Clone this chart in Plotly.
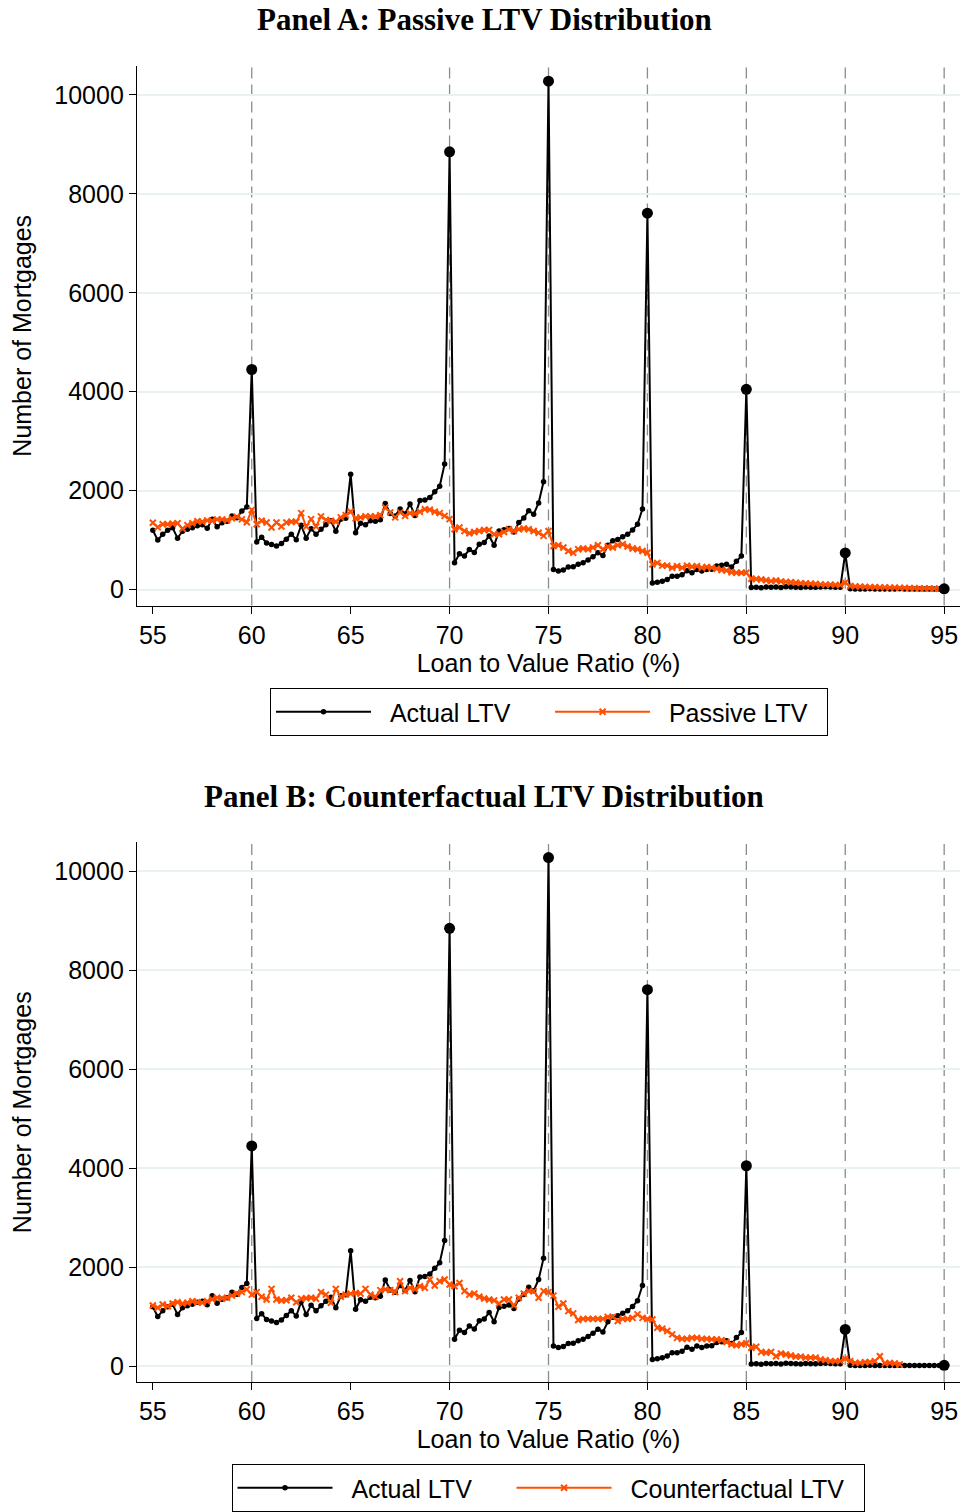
import plotly.graph_objects as go

# ---------------- data ----------------
ltv = [55 + 0.25 * i for i in range(161)]  # LTV grid, 55 to 95 in 0.25 steps

actual = [
    1200, 1000, 1120, 1200,   # 55
    1250, 1040, 1180, 1220,   # 56
    1250, 1290, 1310, 1240,   # 57
    1420, 1270, 1350, 1380,   # 58
    1490, 1450, 1590, 1670,   # 59
    4450, 960, 1060, 940,     # 60
    910, 880, 930, 1020,      # 61
    1120, 1010, 1300, 1040,   # 62
    1230, 1120, 1220, 1310,   # 63
    1390, 1180, 1420, 1440,   # 64
    2330, 1150, 1340, 1310,   # 65
    1390, 1380, 1410, 1740,   # 66
    1540, 1490, 1630, 1530,   # 67
    1730, 1500, 1800, 1810,   # 68
    1860, 1980, 2090, 2540,   # 69
    8850, 540, 725, 680,      # 70
    810, 750, 915, 950,       # 71
    1085, 895, 1185, 1210,    # 72
    1235, 1165, 1355, 1445,   # 73
    1595, 1525, 1750, 2180,   # 74
    10280, 405, 375, 395,     # 75
    455, 460, 510, 540,       # 76
    600, 665, 745, 690,       # 77
    895, 985, 1015, 1070,     # 78
    1120, 1205, 1320, 1630,   # 79
    7610, 135, 150, 170,      # 80
    205, 270, 270, 300,       # 81
    380, 340, 405, 375,       # 82
    405, 410, 475, 490,       # 83
    510, 455, 575, 680,       # 84
    4050, 40, 45, 35,         # 85
    50, 45, 50, 40,           # 86
    55, 50, 45, 40,           # 87
    50, 45, 45, 50,           # 88
    55, 50, 45, 45,           # 89
    740, 15, 10, 12,          # 90
    10, 15, 10, 12,           # 91
    10, 12, 10, 15,           # 92
    10, 12, 10, 10,           # 93
    12, 10, 10, 12,           # 94
    15,                       # 95
]

passive = [
    1350, 1260, 1320, 1320,   # 55
    1330, 1340, 1230, 1300,   # 56
    1340, 1380, 1370, 1400,   # 57
    1390, 1420, 1420, 1400,   # 58
    1440, 1470, 1420, 1360,   # 59
    1610, 1320, 1390, 1355,   # 60
    1255, 1355, 1275, 1355,   # 61
    1370, 1370, 1545, 1275,   # 62
    1425, 1275, 1480, 1410,   # 63
    1390, 1370, 1460, 1505,   # 64
    1575, 1440, 1460, 1480,   # 65
    1480, 1480, 1505, 1660,   # 66
    1560, 1460, 1560, 1490,   # 67
    1545, 1530, 1575, 1625,   # 68
    1615, 1575, 1545, 1490,   # 69
    1425, 1220, 1255, 1185,   # 70
    1140, 1165, 1185, 1205,   # 71
    1205, 1120, 1120, 1165,   # 72
    1220, 1185, 1220, 1235,   # 73
    1220, 1185, 1150, 1085,   # 74
    1185, 880, 895, 850,      # 75
    780, 745, 815, 830,       # 76
    815, 850, 895, 815,       # 77
    870, 850, 895, 915,       # 78
    870, 830, 815, 780,       # 79
    745, 510, 540, 485,       # 80
    485, 440, 475, 440,       # 81
    485, 460, 475, 440,       # 82
    455, 440, 420, 395,       # 83
    385, 350, 340, 340,       # 84
    340, 220, 215, 205,       # 85
    190, 170, 185, 165,       # 86
    155, 150, 140, 130,       # 87
    125, 120, 115, 105,       # 88
    100, 100, 95, 90,         # 89
    140, 70, 65, 60,          # 90
    55, 50, 50, 45,           # 91
    45, 40, 40, 35,           # 92
    35, 30, 30, 25,           # 93
    25, 25, 20, 20,           # 94
    20,                       # 95
]

counterfactual = [
    1225, 1180, 1245, 1210,   # 55
    1265, 1290, 1265, 1280,   # 56
    1310, 1290, 1280, 1310,   # 57
    1350, 1380, 1365, 1380,   # 58
    1425, 1465, 1495, 1550,   # 59
    1445, 1495, 1400, 1345,   # 60
    1560, 1345, 1325, 1330,   # 61
    1380, 1290, 1360, 1370,   # 62
    1380, 1360, 1495, 1445,   # 63
    1280, 1560, 1400, 1445,   # 64
    1465, 1480, 1465, 1560,   # 65
    1445, 1400, 1535, 1550,   # 66
    1535, 1495, 1715, 1515,   # 67
    1580, 1550, 1615, 1580,   # 68
    1750, 1630, 1715, 1750,   # 69
    1650, 1615, 1680, 1515,   # 70
    1445, 1465, 1400, 1365,   # 71
    1345, 1325, 1265, 1345,   # 72
    1345, 1225, 1380, 1465,   # 73
    1515, 1515, 1380, 1515,   # 74
    1495, 1425, 1200, 1265,   # 75
    1110, 1065, 930, 955,     # 76
    955, 955, 955, 955,       # 77
    995, 995, 910, 955,       # 78
    955, 975, 1045, 975,      # 79
    955, 940, 775, 755,       # 80
    710, 640, 570, 550,       # 81
    550, 570, 570, 550,       # 82
    550, 540, 540, 525,       # 83
    485, 440, 420, 440,       # 84
    460, 370, 390, 285,       # 85
    270, 285, 200, 255,       # 86
    235, 215, 190, 190,       # 87
    170, 170, 170, 135,       # 88
    120, 100, 100, 100,       # 89
    150, 100, 65, 65,         # 90
    80, 80, 100, 200,         # 91
    55, 65, 55, 35,           # 92
    None, None, None, None,   # 93
    None, None, None, None,   # 94
    None,                     # 95
]

bunch_points = [60, 70, 75, 80, 85, 90, 95]
x_ticks = [55, 60, 65, 70, 75, 80, 85, 90, 95]
y_ticks = [0, 2000, 4000, 6000, 8000, 10000]
y_tick_labels = ["0", "2000", "4000", "6000", "8000", "10000"]

panel_titles = ["Panel A: Passive LTV Distribution", "Panel B: Counterfactual LTV Distribution"]
series_names = ["Actual LTV", "Passive LTV", "Counterfactual LTV"]
x_title = "Loan to Value Ratio (%)"
y_title = "Number of Mortgages"

# ---------------- figure ----------------
# Body margin is removed by the post script, so the figure fills the whole 961x1512 page.
W, H = 961, 1512


def px(xp):
    return xp / W


def py(yp):
    return 1 - yp / H


BLACK = "#000000"
ORANGE = "#ff4f00"
SANS = "Liberation Sans, Arial, sans-serif"
SERIF = "Liberation Serif, Times New Roman, serif"
NB = "\u00a0"

bunch_y = [actual[ltv.index(b)] for b in bunch_points]

fig = go.Figure()

panels = [
    dict(other=passive, name=series_names[1], xa="x", ya="y", leg="legend"),
    dict(other=counterfactual, name=series_names[2], xa="x2", ya="y2", leg="legend2"),
]

for p in panels:
    fig.add_trace(go.Scatter(
        x=ltv, y=actual, mode="lines+markers",
        name=NB * 2 + series_names[0] + NB * 5,
        line=dict(color=BLACK, width=2),
        marker=dict(color=BLACK, size=5.5, symbol="circle"),
        xaxis=p["xa"], yaxis=p["ya"], legend=p["leg"], showlegend=True,
    ))
    fig.add_trace(go.Scatter(
        x=ltv, y=p["other"], mode="lines+markers",
        name=NB * 2 + p["name"] + NB * 2,
        line=dict(color=ORANGE, width=2),
        marker=dict(color=ORANGE, size=6, symbol="x-thin", line=dict(color=ORANGE, width=2)),
        xaxis=p["xa"], yaxis=p["ya"], legend=p["leg"], showlegend=True,
    ))
    fig.add_trace(go.Scatter(
        x=bunch_points, y=bunch_y, mode="markers",
        marker=dict(color=BLACK, size=11, symbol="circle"),
        xaxis=p["xa"], yaxis=p["ya"], showlegend=False, hoverinfo="skip",
    ))

# Vertical dashed lines at bunching points
for xr, yr in [("x", "y domain"), ("x2", "y2 domain")]:
    for b in bunch_points:
        fig.add_shape(type="line", xref=xr, yref=yr, x0=b, x1=b, y0=0, y1=1,
                      line=dict(color="#8c8c8c", width=1.3, dash="11px,6px"), layer="below")

x_dom = [px(137), px(960)]
doms = [[py(606), py(66)], [py(1383), py(843)]]

FS = 25
common_x = dict(
    domain=x_dom, range=[54.2, 95.8], tickmode="array", tickvals=x_ticks,
    ticks="outside", ticklen=7, tickwidth=1.2, tickcolor=BLACK,
    showline=True, linecolor=BLACK, linewidth=1.3, showgrid=False, zeroline=False,
    tickfont=dict(family=SANS, size=FS, color=BLACK),
    title=dict(text=x_title, font=dict(family=SANS, size=FS, color=BLACK), standoff=2),
    automargin=False,
)
common_y = dict(
    range=[-324, 10587], tickmode="array", tickvals=y_ticks, ticktext=y_tick_labels,
    ticks="outside", ticklen=7, tickwidth=1.2, tickcolor=BLACK,
    showline=True, linecolor=BLACK, linewidth=1.3,
    showgrid=True, gridcolor="#e9f1f3", gridwidth=2, zeroline=False,
    tickfont=dict(family=SANS, size=FS, color=BLACK),
    title=dict(text=y_title, font=dict(family=SANS, size=FS, color=BLACK), standoff=15),
    automargin=False,
)

legend_common = dict(
    orientation="h", xanchor="center", yanchor="top",
    bordercolor=BLACK, borderwidth=1, bgcolor="white",
    font=dict(family=SANS, size=FS, color=BLACK), itemwidth=95,
)

fig.update_layout(
    width=W, height=H,
    margin=dict(l=0, r=0, t=0, b=0),
    paper_bgcolor="white", plot_bgcolor="white",
    xaxis=dict(common_x, anchor="y"),
    yaxis=dict(common_y, domain=doms[0], anchor="x"),
    xaxis2=dict(common_x, anchor="y2"),
    yaxis2=dict(common_y, domain=doms[1], anchor="x2"),
    legend=dict(legend_common, x=px(549), y=py(688)),
    legend2=dict(legend_common, x=px(548), y=py(1465)),
    annotations=[
        dict(text="<b>%s</b>" % panel_titles[0], x=px(484), y=py(20), xref="paper", yref="paper",
             xanchor="center", yanchor="middle", showarrow=False,
             font=dict(family=SERIF, size=31, color=BLACK)),
        dict(text="<b>%s</b>" % panel_titles[1], x=px(484), y=py(797), xref="paper", yref="paper",
             xanchor="center", yanchor="middle", showarrow=False,
             font=dict(family=SERIF, size=31, color=BLACK)),
    ],
    showlegend=True,
)

fig.write_html(
    "out.html",
    config={"displayModeBar": False},
    post_script="document.body.style.margin='0px';"
                "document.documentElement.style.overflow='hidden';"
                "document.body.style.overflow='hidden';",
)
